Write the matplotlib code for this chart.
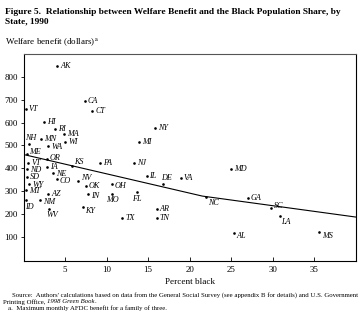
import matplotlib
matplotlib.use("Agg")
import matplotlib.pyplot as plt

plt.rcParams['font.family'] = ['Liberation Serif', 'DejaVu Serif']
plt.rcParams['mathtext.fontset'] = 'stix'

# ---- data ----
states = ["AK", "VT", "HI", "RI", "MA", "NH", "MN", "WI", "WA", "ME",
          "OR", "VT", "ND", "IA", "KS", "PA", "NE", "SD", "CO", "NV",
          "WY", "OK", "OH", "MT", "AZ", "IN", "MO", "FL", "ID", "NM",
          "WV", "KY", "TX", "AR", "TN", "NJ", "IL", "DE", "MI", "NY",
          "CA", "CT", "VA", "MD", "NC", "GA", "SC", "LA", "AL", "MS"]
pct_black = [4.07, 0.3, 2.43, 3.8, 4.9, 0.66, 2.1, 5.0, 3.0, 0.39,
             2.8, 0.58, 0.39, 2.8, 5.8, 9.15, 3.6, 0.39, 4.0, 6.57,
             0.7, 7.5, 10.6, 0.27, 3.0, 7.8, 10.7, 13.6, 0.3, 2.0,
             3.1, 7.1, 11.9, 16.0, 16.0, 13.3, 14.8, 16.8, 13.9, 15.8,
             7.4, 8.3, 18.9, 25.0, 22.0, 27.0, 29.8, 30.8, 25.3, 35.6]
benefit = [848, 660, 601, 572, 548, 505, 528, 515, 499, 460,
           440, 421, 396, 406, 410, 421, 381, 362, 353, 346,
           333, 321, 333, 304, 289, 289, 289, 294, 260, 260,
           221, 228, 180, 221, 180, 423, 366, 333, 515, 577,
           693, 650, 355, 396, 275, 270, 224, 190, 117, 119]

fit_x = [0, 21.5, 40]
fit_y = [460, 278, 186]

x_ticks = [5, 10, 15, 20, 25, 30, 35]
y_ticks = [100, 200, 300, 400, 500, 600, 700, 800]

# ---- label placement (pixel offsets: dx, dy, ha, va) ----
default_off = (3, 0, 'left', 'center')
label_off = {
    5: (-4, 2, 'left', 'bottom'),      # NH
    9: (2, 2, 'left', 'center'),       # ME
    10: (3, 1.5, 'left', 'center'),    # OR
    12: (3, -1, 'left', 'center'),     # ND
    8: (3, -1, 'left', 'center'),      # WA
    14: (2, 4, 'left', 'center'),      # KS
    16: (3, -1.5, 'left', 'center'),   # NE
    18: (3, -2, 'left', 'center'),     # CO
    19: (2.5, 2.5, 'left', 'center'),  # NV
    20: (3, -1, 'left', 'center'),     # WY
    22: (3, -2.5, 'left', 'center'),   # OH
    23: (3, -1, 'left', 'center'),     # MT
    25: (3, -2, 'left', 'center'),     # IN
    26: (0, -2.5, 'center', 'top'),    # MO
    27: (0, -2.5, 'center', 'top'),    # FL
    28: (-1, -2.5, 'left', 'top'),     # ID
    29: (3, -2, 'left', 'center'),     # NM
    30: (-2.5, -2, 'left', 'top'),     # WV
    31: (3, -4, 'left', 'center'),     # KY
    37: (3, 2, 'center', 'bottom'),    # DE
    44: (1.5, -2, 'left', 'top'),      # NC
    46: (3, 2.5, 'left', 'center'),    # SC
    47: (1.5, -2, 'left', 'top'),      # LA
    48: (2.5, -3.5, 'left', 'center'), # AL
    49: (2.5, -3.5, 'left', 'center'), # MS
}

W, H = 363, 334
fig = plt.figure(figsize=(W / 100, H / 100), dpi=100)
ax = fig.add_axes([23.5 / W, 1 - 260.7 / H, (356 - 23.5) / W, (260.7 - 54) / H])

ax.plot(fit_x, fit_y, color='black', lw=0.8, zorder=2)
ax.plot(pct_black, benefit, 'o', color='black', ms=1.9, mew=0, zorder=3)

for i, (s, x, y) in enumerate(zip(states, pct_black, benefit)):
    dx, dy, ha, va = label_off.get(i, default_off)
    ax.annotate(s, (x, y), xytext=(dx, dy), textcoords='offset pixels',
                ha=ha, va=va, fontsize=5.9, style='italic', color='black')

ax.set_xlim(0, 40)
ax.set_ylim(-5, 900)
ax.set_xticks(x_ticks)
ax.set_yticks(y_ticks)
ax.set_xticklabels([str(v) for v in x_ticks])
ax.set_yticklabels([str(v) for v in y_ticks])
ax.tick_params(axis='x', direction='in', length=3, width=0.6, labelsize=6.4, pad=4)
ax.tick_params(axis='y', direction='out', length=2.5, width=0.6, labelsize=6.4, pad=1.5)
for sp in ax.spines.values():
    sp.set_linewidth(0.8)
    sp.set_color('black')
ax.spines['top'].set_color('#555555')

ax.set_xlabel('Percent black', fontsize=6.6, labelpad=3)

def fy(py):
    return 1 - py / H

fig.text(5 / W, fy(11.7), 'Figure 5.  Relationship between Welfare Benefit and the Black Population Share, by',
         fontsize=6.75, fontweight='bold', ha='left', va='center')
fig.text(5 / W, fy(21.7), 'State, 1990', fontsize=6.75, fontweight='bold', ha='left', va='center')
fig.text(5 / W, fy(43), r'Welfare benefit (dollars)$^{\rm a}$', fontsize=6.5, ha='left', va='center')

fs_note = 4.85
fig.text(12 / W, fy(295), "Source:  Authors' calculations based on data from the General Social Survey (see appendix B for details) and U.S. Government",
         fontsize=fs_note, ha='left', va='center')
t1 = fig.text(3 / W, fy(301.7), "Printing Office, ", fontsize=fs_note, ha='left', va='center')
fig.canvas.draw()
bb = t1.get_window_extent(renderer=fig.canvas.get_renderer())
fig.text(bb.x1 / W, fy(301.7), "1998 Green Book", fontsize=fs_note, style='italic', ha='left', va='center')
t2x = bb.x1
t2 = fig.texts[-1]
bb2 = t2.get_window_extent(renderer=fig.canvas.get_renderer())
fig.text(bb2.x1 / W, fy(301.7), ".", fontsize=fs_note, ha='left', va='center')
fig.text(8 / W, fy(308.3), "a.  Maximum monthly AFDC benefit for a family of three.", fontsize=fs_note, ha='left', va='center')

fig.savefig('out.png', dpi=100)
